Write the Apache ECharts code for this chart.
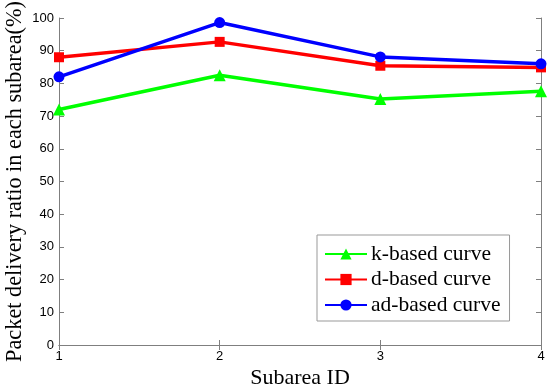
<!DOCTYPE html>
<html>
<head>
<meta charset="utf-8">
<script src="https://cdn.jsdelivr.net/npm/echarts@6/dist/echarts.min.js"></script>
<style>html,body{margin:0;padding:0;background:#fff}#c{width:550px;height:390px}</style>
</head>
<body>
<div id="c"></div>
<script>
var subareas = [1, 2, 3, 4];
var kBased = [72, 82.5, 75.2, 77.6];
var dBased = [88, 92.7, 85.4, 84.9];
var adBased = [82, 98.6, 88.1, 86];
var seriesNames = ['k-based curve', 'd-based curve', 'ad-based curve'];
var yTicks = [0, 10, 20, 30, 40, 50, 60, 70, 80, 90, 100];

function pairs(vals) { return subareas.map(function (x, i) { return [x, vals[i]]; }); }

var chart = echarts.init(document.getElementById('c'));
var axisCol = '#7f7f7f';
var serif = 'Liberation Serif, Times New Roman, serif';
var tickFont = { fontFamily: 'Liberation Sans, Arial, sans-serif', fontSize: 13, color: '#000' };
chart.setOption({
  animation: false,
  grid: { left: 59, top: 18, right: 9, bottom: 45, outerBoundsMode: 'none', containLabel: false },
  xAxis: [{
    type: 'value', min: 1, max: 4, interval: 1,
    name: 'Subarea ID', nameLocation: 'middle', nameGap: 22, nameMoveOverlap: false,
    nameTextStyle: { fontFamily: serif, fontSize: 22, color: '#000' },
    axisLine: { lineStyle: { color: axisCol, width: 1 } },
    axisTick: { inside: true, length: 5, lineStyle: { color: axisCol } },
    axisLabel: Object.assign({ margin: 5 }, tickFont),
    splitLine: { show: false }
  }, {
    type: 'value', min: 1, max: 4, interval: 1, position: 'top',
    axisLine: { lineStyle: { color: axisCol, width: 1 } },
    axisTick: { inside: true, length: 5, lineStyle: { color: axisCol } },
    axisLabel: { show: false }, splitLine: { show: false }
  }],
  yAxis: [{
    type: 'value', min: 0, max: 100, interval: 10,
    name: 'Packet delivery ratio in each subarea(%)', nameLocation: 'middle', nameGap: 33, nameMoveOverlap: false,
    nameTextStyle: { fontFamily: serif, fontSize: 22.3, color: '#000' },
    axisLine: { show: true, lineStyle: { color: axisCol, width: 1 } },
    axisTick: { show: true, inside: true, length: 5, lineStyle: { color: axisCol } },
    axisLabel: Object.assign({ margin: 5, formatter: function (v) { return yTicks.indexOf(v) >= 0 ? String(v) : ''; } }, tickFont),
    splitLine: { show: false }
  }, {
    type: 'value', min: 0, max: 100, interval: 10, position: 'right',
    axisLine: { show: true, lineStyle: { color: axisCol, width: 1 } },
    axisTick: { show: true, inside: true, length: 5, lineStyle: { color: axisCol } },
    axisLabel: { show: false }, splitLine: { show: false }
  }],
  legend: {
    orient: 'vertical', left: 317, top: 235,
    padding: [8, 9, 5, 7],
    itemWidth: 42, itemHeight: 14, itemGap: 3.5,
    borderColor: '#999', borderWidth: 1, backgroundColor: '#fff',
    textStyle: { fontFamily: serif, fontSize: 21.5, lineHeight: 20, color: '#000', padding: [0, 0, 0, -1] },
    data: seriesNames
  },
  series: [
    { name: seriesNames[0], type: 'line', data: pairs(kBased), color: '#00ff00', symbol: 'triangle', symbolSize: 12, lineStyle: { width: 3.5 } },
    { name: seriesNames[1], type: 'line', data: pairs(dBased), color: '#ff0000', symbol: 'rect', symbolSize: 10, lineStyle: { width: 3.5 } },
    { name: seriesNames[2], type: 'line', data: pairs(adBased), color: '#0000ff', symbol: 'circle', symbolSize: 11, lineStyle: { width: 3.5 } }
  ]
});
</script>
</body>
</html>
